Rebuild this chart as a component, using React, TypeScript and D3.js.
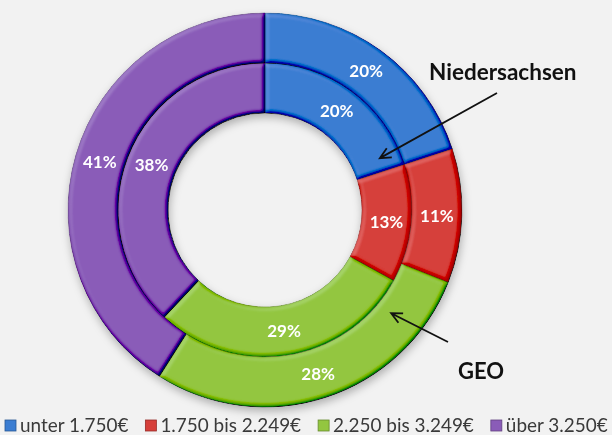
import React, { useEffect, useRef } from 'react';
import * as d3 from 'd3';

// income brackets (legend order = slice order, clockwise from 12 o'clock)
const categories = ['unter 1.750€', '1.750 bis 2.249€', '2.250 bis 3.249€', 'über 3.250€'];
const niedersachsenValues = [20, 13, 29, 38]; // inner ring
const geoValues = [20, 11, 28, 41]; // outer ring
const seriesNames = ['Niedersachsen', 'GEO'];

const colors = ['#3b7dd2', '#d63f3a', '#93c640', '#8a5cb8'];

const App = () => {
  const svgRef = useRef<SVGSVGElement>(null);

  useEffect(() => {
    if (!svgRef.current) return;
    const width = 612, height = 435;
    const cx = 265, cy = 210;
    const hole = 97, mid = 147, outer = 197;
    const font = 'Lato, "Open Sans", sans-serif';

    const svg = d3.select(svgRef.current);
    svg.selectAll('*').remove();

    svg.append('rect').attr('width', width).attr('height', height).attr('fill', '#f2f2f2');

    const defs = svg.append('defs');

    // bevel look of the old office charts
    const bevel = defs.append('filter').attr('id', 'bevel')
      .attr('x', '-10%').attr('y', '-10%').attr('width', '120%').attr('height', '120%');
    bevel.append('feGaussianBlur').attr('in', 'SourceAlpha').attr('stdDeviation', 2.2).attr('result', 'blur');
    bevel.append('feDiffuseLighting')
      .attr('in', 'blur').attr('surfaceScale', 3).attr('diffuseConstant', 1)
      .attr('lighting-color', '#ffffff').attr('result', 'light')
      .append('feDistantLight').attr('azimuth', 225).attr('elevation', 60);
    bevel.append('feComposite')
      .attr('in', 'SourceGraphic').attr('in2', 'light')
      .attr('operator', 'arithmetic')
      .attr('k1', 0).attr('k2', 1).attr('k3', 0.6).attr('k4', -0.52)
      .attr('result', 'lit');
    bevel.append('feComposite').attr('in', 'lit').attr('in2', 'SourceAlpha').attr('operator', 'in');

    const shadow = defs.append('filter').attr('id', 'shadow')
      .attr('x', '-20%').attr('y', '-20%').attr('width', '140%').attr('height', '140%');
    shadow.append('feDropShadow')
      .attr('dx', 1).attr('dy', 4).attr('stdDeviation', 4)
      .attr('flood-color', '#000').attr('flood-opacity', 0.28);

    const g = svg.append('g').attr('transform', `translate(${cx},${cy})`);

    const pie = d3.pie<number>().sort(null).value(d => d);

    const rings = [
      { name: seriesNames[0], values: niedersachsenValues, r0: hole, r1: mid },
      { name: seriesNames[1], values: geoValues, r0: mid, r1: outer },
    ];

    const donut = g.append('g').attr('filter', 'url(#shadow)');

    rings.forEach(ring => {
      const arc = d3.arc<d3.PieArcDatum<number>>().innerRadius(ring.r0).outerRadius(ring.r1);
      donut.append('g').selectAll('path')
        .data(pie(ring.values))
        .enter()
        .append('path')
        .attr('d', arc)
        .attr('fill', (d, i) => colors[i])
        .attr('stroke', (d, i) => d3.color(colors[i])!.darker(0.8).toString())
        .attr('stroke-width', 0.8)
        .attr('filter', 'url(#bevel)');
    });

    rings.forEach(ring => {
      const arc = d3.arc<d3.PieArcDatum<number>>().innerRadius(ring.r0).outerRadius(ring.r1);
      g.append('g').selectAll('text')
        .data(pie(ring.values))
        .enter()
        .append('text')
        .attr('transform', d => `translate(${arc.centroid(d)})`)
        .attr('text-anchor', 'middle')
        .attr('dy', '0.36em')
        .attr('fill', '#ffffff')
        .style('font-family', font)
        .style('font-weight', 700)
        .style('font-size', '17px')
        .text(d => `${d.data}%`);
    });

    // annotation arrows
    const polar = (r: number, deg: number): [number, number] => {
      const a = (deg * Math.PI) / 180;
      return [cx + r * Math.sin(a), cy - r * Math.cos(a)];
    };
    const arrow = (from: [number, number], to: [number, number]) => {
      const ang = Math.atan2(to[1] - from[1], to[0] - from[0]);
      const len = 12, spread = 0.45;
      const p1 = [to[0] - len * Math.cos(ang - spread), to[1] - len * Math.sin(ang - spread)];
      const p2 = [to[0] - len * Math.cos(ang + spread), to[1] - len * Math.sin(ang + spread)];
      svg.append('path')
        .attr('d', `M${from[0]},${from[1]}L${to[0]},${to[1]}M${p1[0]},${p1[1]}L${to[0]},${to[1]}L${p2[0]},${p2[1]}`)
        .attr('fill', 'none')
        .attr('stroke', '#111')
        .attr('stroke-width', 1.8);
    };
    arrow([497, 93], polar(126, 65.7));
    arrow([448, 342], polar(163, 129.3));

    svg.append('text')
      .attr('x', 429).attr('y', 80)
      .style('font-family', font)
      .style('font-weight', 700).style('font-size', '22.5px')
      .attr('fill', '#111')
      .text(seriesNames[0]);
    svg.append('text')
      .attr('x', 458).attr('y', 379)
      .style('font-family', font)
      .style('font-weight', 700).style('font-size', '22px')
      .attr('fill', '#111')
      .text(seriesNames[1]);

    // legend, stretched over the bottom edge like the original
    const legend = svg.append('g');
    const box = 11, pad = 4, gap = 17, left = 5, right = 608;
    const items = legend.selectAll('g').data(categories).enter().append('g');
    items.append('rect')
      .attr('width', box).attr('height', box)
      .attr('fill', (d, i) => colors[i])
      .attr('stroke', (d, i) => d3.color(colors[i])!.darker(1).toString())
      .attr('stroke-width', 0.8);
    const labels = items.append('text')
      .attr('x', box + pad).attr('y', box + 1)
      .attr('fill', '#3a3a3a')
      .style('font-family', font)
      .style('font-size', '16px')
      .text(d => d);
    const measure = () => labels.nodes().map(n => (n as SVGTextElement).getComputedTextLength());
    const fixed = categories.length * (box + pad) + (categories.length - 1) * gap;
    const sum0 = d3.sum(measure());
    labels.style('font-size', `${(16 * (right - left - fixed)) / sum0}px`);
    const widths = measure();
    let x = left;
    items.attr('transform', (d, i) => {
      const t = `translate(${x},${420})`;
      x += box + pad + widths[i] + gap;
      return t;
    });
  }, []);

  return (
    <svg
      ref={svgRef}
      width={612}
      height={435}
      style={{ position: 'absolute', left: 0, top: 0, display: 'block' }}
    />
  );
};

export default App;
